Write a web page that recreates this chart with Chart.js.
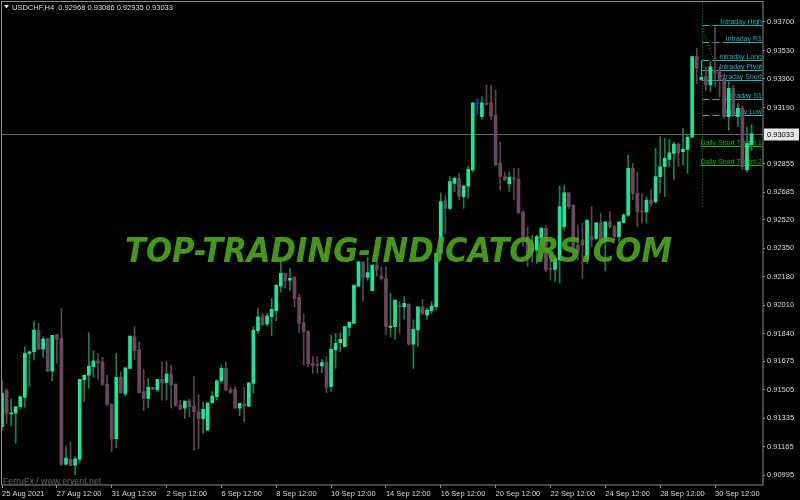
<!DOCTYPE html>
<html><head><meta charset="utf-8">
<script src="https://cdn.jsdelivr.net/npm/chart.js@4.4.1/dist/chart.umd.min.js"></script>
<style>html,body{margin:0;padding:0;background:#000;}canvas{display:block;}</style>
</head><body>
<canvas id="c" width="800" height="500"></canvas>
<script>
// ---- data (USDCHF H4) ----
const chartTitle = 'USDCHF,H4  0.92968 0.93086 0.92935 0.93033';
const creditText = 'FerruFx / www.ervent.net';
const watermarkText = 'TOP-TRADING-INDICATORS.COM';

const open = [0.91285,0.91500,0.91361,0.91365,0.91404,0.91460,0.91723,0.91732,0.91862,0.91747,
0.91812,0.91617,0.91834,0.91812,0.91062,0.91090,0.91055,0.91090,0.91564,0.91593,
0.91643,0.91677,0.91671,0.91538,0.91420,0.91213,0.91580,0.91480,0.91633,0.91822,
0.91743,0.91494,0.91454,0.91520,0.91504,0.91568,0.91547,0.91599,0.91540,0.91414,
0.91395,0.91438,0.91408,0.91374,0.91333,0.91265,0.91428,0.91464,0.91558,0.91633,
0.91504,0.91508,0.91395,0.91420,0.91408,0.91544,0.91858,0.91945,0.91898,0.91941,
0.91977,0.92124,0.92200,0.92160,0.92176,0.92057,0.91905,0.91856,0.91663,0.91657,
0.91647,0.91667,0.91524,0.91743,0.91786,0.91762,0.91878,0.91902,0.92124,0.92269,
0.92176,0.92096,0.92250,0.92184,0.92170,0.91878,0.91882,0.92009,0.92001,0.92017,
0.91778,0.91862,0.92001,0.91951,0.91977,0.92001,0.92320,0.92633,0.92588,0.92737,
0.92767,0.92657,0.92721,0.92817,0.93213,0.93135,0.93218,0.93218,0.93145,0.92857,
0.92777,0.92733,0.92771,0.92763,0.92564,0.92419,0.92335,0.92339,0.92409,0.92469,
0.92230,0.92224,0.92280,0.92478,0.92681,0.92608,0.92369,0.92399,0.92280,0.92419,
0.92409,0.92502,0.92389,0.92508,0.92478,0.92419,0.92502,0.92548,0.92827,0.92678,
0.92572,0.92566,0.92638,0.92628,0.92777,0.92836,0.92880,0.92916,0.92972,0.92926,
0.92940,0.93012,0.93493,0.93358,0.93378,0.93324,0.93413,0.93403,0.93364,0.93135,
0.93304,0.93135,0.93185,0.92817,0.92968];
const high = [0.91564,0.91514,0.91450,0.91408,0.91468,0.91762,0.91735,0.91916,0.91902,0.91822,
0.91812,0.91830,0.91834,0.91991,0.91170,0.91195,0.91106,0.91568,0.91593,0.91846,
0.91738,0.91723,0.91699,0.91593,0.91420,0.91723,0.91613,0.91637,0.91826,0.91882,
0.91792,0.91627,0.91574,0.91520,0.91568,0.91673,0.91673,0.91653,0.91540,0.91444,
0.91438,0.91448,0.91587,0.91478,0.91434,0.91428,0.91494,0.91564,0.91653,0.91673,
0.91520,0.91528,0.91424,0.91520,0.91547,0.91882,0.91991,0.91961,0.91961,0.92051,
0.92130,0.92280,0.92200,0.92230,0.92184,0.92075,0.91956,0.91856,0.91703,0.91703,
0.91687,0.91703,0.91832,0.91842,0.91846,0.91882,0.91910,0.92130,0.92269,0.92269,
0.92296,0.92250,0.92268,0.92240,0.92240,0.92081,0.92041,0.92031,0.92061,0.92017,
0.91922,0.92001,0.92045,0.91991,0.92031,0.92320,0.92681,0.92667,0.92777,0.92777,
0.92797,0.92727,0.92840,0.93218,0.93244,0.93254,0.93324,0.93324,0.93294,0.92985,
0.92806,0.92806,0.92827,0.92827,0.92578,0.92478,0.92429,0.92429,0.92478,0.92488,
0.92309,0.92309,0.92721,0.92727,0.92681,0.92608,0.92488,0.92499,0.92518,0.92598,
0.92502,0.92558,0.92508,0.92568,0.92488,0.92508,0.92558,0.92906,0.92857,0.92806,
0.92678,0.92657,0.92697,0.92946,0.93015,0.93006,0.93000,0.92985,0.92976,0.93065,
0.93031,0.93493,0.93543,0.93378,0.93433,0.93463,0.93672,0.93433,0.93394,0.93344,
0.93324,0.93215,0.93199,0.93075,0.93086];
const low = [0.91265,0.91305,0.91289,0.91186,0.91389,0.91401,0.91524,0.91683,0.91743,0.91699,
0.91613,0.91559,0.91663,0.91056,0.91056,0.91052,0.90997,0.91070,0.91434,0.91514,
0.91580,0.91564,0.91534,0.91408,0.91136,0.91160,0.91484,0.91470,0.91633,0.91683,
0.91488,0.91380,0.91395,0.91504,0.91494,0.91444,0.91444,0.91395,0.91404,0.91385,
0.91335,0.91345,0.91146,0.91156,0.91245,0.91265,0.91424,0.91444,0.91544,0.91500,
0.91484,0.91395,0.91349,0.91315,0.91404,0.91484,0.91842,0.91886,0.91886,0.91826,
0.91917,0.92090,0.92111,0.92096,0.92001,0.91846,0.91653,0.91643,0.91603,0.91603,
0.91607,0.91488,0.91494,0.91633,0.91732,0.91762,0.91826,0.91902,0.92120,0.92031,
0.92160,0.92096,0.92184,0.92160,0.91832,0.91822,0.91806,0.91842,0.91926,0.91772,
0.91633,0.91762,0.91951,0.91926,0.91961,0.91981,0.92280,0.92439,0.92578,0.92687,
0.92638,0.92588,0.92648,0.92806,0.93145,0.93119,0.93204,0.93119,0.92846,0.92697,
0.92753,0.92687,0.92638,0.92558,0.92359,0.92240,0.92269,0.92260,0.92359,0.92210,
0.92160,0.92150,0.92141,0.92459,0.92588,0.92339,0.92280,0.92170,0.92260,0.92359,
0.92399,0.92389,0.92216,0.92469,0.92399,0.92389,0.92499,0.92538,0.92638,0.92478,
0.92499,0.92499,0.92598,0.92618,0.92678,0.92657,0.92836,0.92757,0.92836,0.92846,
0.92797,0.93006,0.93334,0.93349,0.93290,0.93284,0.93314,0.93254,0.93125,0.93055,
0.93135,0.93075,0.92817,0.92806,0.92935];
const close = [0.91484,0.91365,0.91368,0.91404,0.91464,0.91723,0.91732,0.91862,0.91747,0.91808,
0.91617,0.91830,0.91808,0.91062,0.91098,0.91052,0.91094,0.91568,0.91593,0.91647,
0.91677,0.91665,0.91534,0.91420,0.91210,0.91580,0.91488,0.91637,0.91826,0.91738,
0.91488,0.91454,0.91520,0.91508,0.91568,0.91547,0.91599,0.91534,0.91414,0.91389,
0.91438,0.91404,0.91374,0.91335,0.91389,0.91428,0.91468,0.91559,0.91633,0.91504,
0.91488,0.91395,0.91424,0.91408,0.91547,0.91862,0.91941,0.91892,0.91945,0.91985,
0.92130,0.92200,0.92156,0.92170,0.92051,0.91902,0.91852,0.91659,0.91649,0.91651,
0.91667,0.91520,0.91747,0.91783,0.91806,0.91882,0.91910,0.92130,0.92269,0.92176,
0.92204,0.92250,0.92220,0.92168,0.91882,0.91886,0.92041,0.92001,0.92021,0.91778,
0.91866,0.92001,0.91961,0.91981,0.92005,0.92320,0.92628,0.92588,0.92747,0.92767,
0.92661,0.92721,0.92821,0.93218,0.93213,0.93218,0.93210,0.93139,0.92846,0.92777,
0.92757,0.92773,0.92763,0.92562,0.92419,0.92320,0.92349,0.92419,0.92469,0.92220,
0.92224,0.92290,0.92598,0.92681,0.92598,0.92359,0.92320,0.92369,0.92518,0.92403,
0.92502,0.92389,0.92508,0.92478,0.92419,0.92508,0.92548,0.92827,0.92678,0.92568,
0.92566,0.92638,0.92618,0.92777,0.92836,0.92886,0.92920,0.92972,0.92920,0.92940,
0.93012,0.93493,0.93424,0.93370,0.93324,0.93433,0.93394,0.93358,0.93135,0.93304,
0.93145,0.93185,0.92836,0.92976,0.93033];

const xTickAt = [0,12,24,36,48,60,72,84,96,108,120,132,144,156];
const xTickLabels = ['25 Aug 2021','27 Aug 12:00','31 Aug 12:00','2 Sep 12:00','6 Sep 12:00','8 Sep 12:00',
 '10 Sep 12:00','14 Sep 12:00','16 Sep 12:00','20 Sep 12:00','22 Sep 12:00','24 Sep 12:00','28 Sep 12:00','30 Sep 12:00'];
const yTickValues = [0.93700,0.93530,0.93360,0.93190,0.92855,0.92685,0.92520,0.92350,0.92180,
 0.92010,0.91840,0.91675,0.91505,0.91335,0.91165,0.90995];
const yMin = 0.909371, yMax = 0.938223;
const bidPrice = 0.93033;

// indicator levels (intraday / daily)
const intradayNames  = ['Intraday High','Intraday R1','Intraday Long','Intraday Pivot','Intraday Short','Intraday S1','Intraday Low'];
const intradayPrices = [0.93682,0.93582,0.93473,0.93413,0.93354,0.93240,0.93145];
const dailyNames  = ['Daily Short Target 1','Daily Short Target 2'];
const dailyPrices = [0.92960,0.92846];
const sessionStartBar = 153.1;          // vertical dotted marker
const sessionLineLow  = 0.92598;
const trendFrom = [153.1, 0.93662], trendTo = [156.35, 0.93433];

// ---- styles ----
const BULL = '#19e696', BEAR = '#69485c', BULL_WICK = '#13805a', BEAR_WICK = '#5e4454', DOJI = '#2433c8';
const TEAL = '#1fb3bd', LVLGREEN = '#00b800';

const bodies = open.map((o,i)=>({x:i, y:[o, close[i]]}));
const wicks  = low.map((l,i)=>({x:i, y:[l, high[i]]}));
const bodyCol = open.map((o,i)=> close[i]>o ? BULL : (close[i]<o ? BEAR : DOJI));
const wickCol = open.map((o,i)=> close[i]>o ? BULL_WICK : (close[i]<o ? BEAR_WICK : DOJI));

const FONT = 'Liberation Sans';

const overlay = {
  id:'overlay',
  beforeDraw(c){ const ctx=c.ctx; ctx.save(); ctx.fillStyle='#000'; ctx.fillRect(0,0,c.width,c.height); ctx.restore(); },
  beforeDatasetsDraw(c){
    const ctx=c.ctx, xs=c.scales.x, ys=c.scales.y, a=c.chartArea;
    ctx.save();
    ctx.beginPath(); ctx.rect(a.left,a.top,a.right-a.left,a.bottom-a.top); ctx.clip();
    // bid line
    const by = Math.round(ys.getPixelForValue(bidPrice))+0.5;
    ctx.strokeStyle='#6f6370'; ctx.lineWidth=1;
    ctx.beginPath(); ctx.moveTo(a.left,by); ctx.lineTo(a.right,by); ctx.stroke();
    // session dotted vertical line + trend line
    const sx = Math.round(xs.getPixelForValue(sessionStartBar))+0.5;
    ctx.strokeStyle=LVLGREEN; ctx.setLineDash([1,2]);
    ctx.beginPath(); ctx.moveTo(sx,a.top); ctx.lineTo(sx, ys.getPixelForValue(sessionLineLow)); ctx.stroke();
    ctx.beginPath(); ctx.moveTo(xs.getPixelForValue(trendFrom[0]), ys.getPixelForValue(trendFrom[1]));
    ctx.lineTo(xs.getPixelForValue(trendTo[0]), ys.getPixelForValue(trendTo[1])); ctx.stroke();
    // intraday levels
    ctx.font = '7px "'+FONT+'"'; ctx.textAlign='right'; ctx.textBaseline='alphabetic';
    const rx = a.right-1;
    intradayNames.forEach((n,k)=>{
      const y = Math.round(ys.getPixelForValue(intradayPrices[k]))+0.5;
      const tw = ctx.measureText(n).width;
      ctx.strokeStyle=TEAL; ctx.setLineDash([7,3]);
      ctx.beginPath(); ctx.moveTo(sx,y); ctx.lineTo(rx-tw,y); ctx.stroke();
      ctx.setLineDash([]);
      ctx.beginPath(); ctx.moveTo(rx-tw,y); ctx.lineTo(rx,y); ctx.stroke();
      ctx.fillStyle=TEAL; ctx.fillText(n, rx, y-1.5);
    });
    // small bracket between long & short
    ctx.strokeStyle=TEAL; ctx.setLineDash([]);
    const yl = Math.round(ys.getPixelForValue(intradayPrices[2]))+0.5, ysh = Math.round(ys.getPixelForValue(intradayPrices[4]))+0.5;
    ctx.beginPath(); ctx.moveTo(sx-1,yl); ctx.lineTo(sx-1,ysh); ctx.stroke();
    // daily targets
    dailyNames.forEach((n,k)=>{
      const y = Math.round(ys.getPixelForValue(dailyPrices[k]))+0.5;
      const tw = ctx.measureText(n).width;
      ctx.strokeStyle=LVLGREEN; ctx.setLineDash([]);
      ctx.beginPath(); ctx.moveTo(rx-tw,y); ctx.lineTo(rx,y); ctx.stroke();
      ctx.fillStyle=LVLGREEN; ctx.fillText(n, rx, y-1.5);
    });
    ctx.restore();
  },
  afterDatasetsDraw(c){
    const ctx=c.ctx, a=c.chartArea, ys=c.scales.y;
    ctx.save();
    // watermark
    ctx.font = 'italic bold 33px "DejaVu Sans"';
    const w = ctx.measureText(watermarkText).width;
    ctx.translate(125, 261.5); ctx.scale(547/w, 1);
    ctx.fillStyle='rgba(78,166,28,0.9)'; ctx.textBaseline='alphabetic'; ctx.textAlign='left';
    ctx.fillText(watermarkText, 0, 0);
    ctx.restore();
    ctx.save();
    // frame
    ctx.strokeStyle='#8c8c8c'; ctx.lineWidth=1;
    ctx.strokeRect(1.5,1.5,a.right-1.5,a.bottom-1.5);
    // title
    ctx.fillStyle='#e0e0e0';
    ctx.beginPath(); ctx.moveTo(4,5); ctx.lineTo(9,5); ctx.lineTo(6.5,8.5); ctx.closePath(); ctx.fill();
    ctx.font='7.5px "'+FONT+'"'; ctx.textBaseline='middle'; ctx.textAlign='left';
    ctx.fillStyle='#dcdcdc'; ctx.fillText(chartTitle, 12, 7.5);
    // credit
    ctx.font='8.8px "'+FONT+'"'; ctx.textBaseline='alphabetic';
    ctx.fillStyle='#666666'; ctx.fillText(creditText, 3, 483.5);
    // bid label
    const by = Math.round(ys.getPixelForValue(bidPrice));
    ctx.fillStyle='#e8e8e8'; ctx.fillRect(764, by-5.5, 35, 12);
    ctx.fillStyle='#000'; ctx.font='7.5px "'+FONT+'"'; ctx.textBaseline='middle';
    ctx.fillText(bidPrice.toFixed(5), 767, by+0.5);
    ctx.restore();
  }
};

new Chart(document.getElementById('c'), {
  type:'bar',
  data:{ datasets:[
    {label:'body', data:bodies, backgroundColor:bodyCol, barThickness:3, grouped:false, minBarLength:1, order:0, borderWidth:0},
    {label:'wick', data:wicks, backgroundColor:wickCol, barThickness:1, grouped:false, minBarLength:1, order:1, borderWidth:0}
  ]},
  options:{
    responsive:false, animation:false, devicePixelRatio:1,
    layout:{padding:{left:1.5, top:1.5, right:0, bottom:0}},
    plugins:{legend:{display:false}, tooltip:{enabled:false}, title:{display:false}},
    scales:{
      x:{type:'linear', min:-0.11, max:166.5, offset:false,
        grid:{drawOnChartArea:false, drawTicks:true, tickLength:3, color:'#8c8c8c', offset:false},
        border:{display:false},
        afterBuildTicks:s=>{ s.ticks = xTickAt.map(v=>({value:v})); },
        afterFit:s=>{ s.height = 15; s.paddingLeft = 0; s.paddingRight = 0; },
        ticks:{autoSkip:false, maxRotation:0, minRotation:0, align:'start', padding:1, color:'#d8d8d8',
          font:{family:FONT, size:7.5}, callback:(v,idx)=>xTickLabels[idx]}
      },
      y:{position:'right', min:yMin, max:yMax,
        grid:{drawOnChartArea:false, drawTicks:true, tickLength:2, color:'#8c8c8c'},
        border:{display:false},
        afterBuildTicks:s=>{ s.ticks = yTickValues.map(v=>({value:v})); },
        afterFit:s=>{ s.width = 37; s.paddingTop = 0; s.paddingBottom = 0; },
        ticks:{padding:2, color:'#d8d8d8', font:{family:FONT, size:7.5}, callback:v=>Number(v).toFixed(5)}
      }
    }
  },
  plugins:[overlay]
});
</script>
</body></html>
